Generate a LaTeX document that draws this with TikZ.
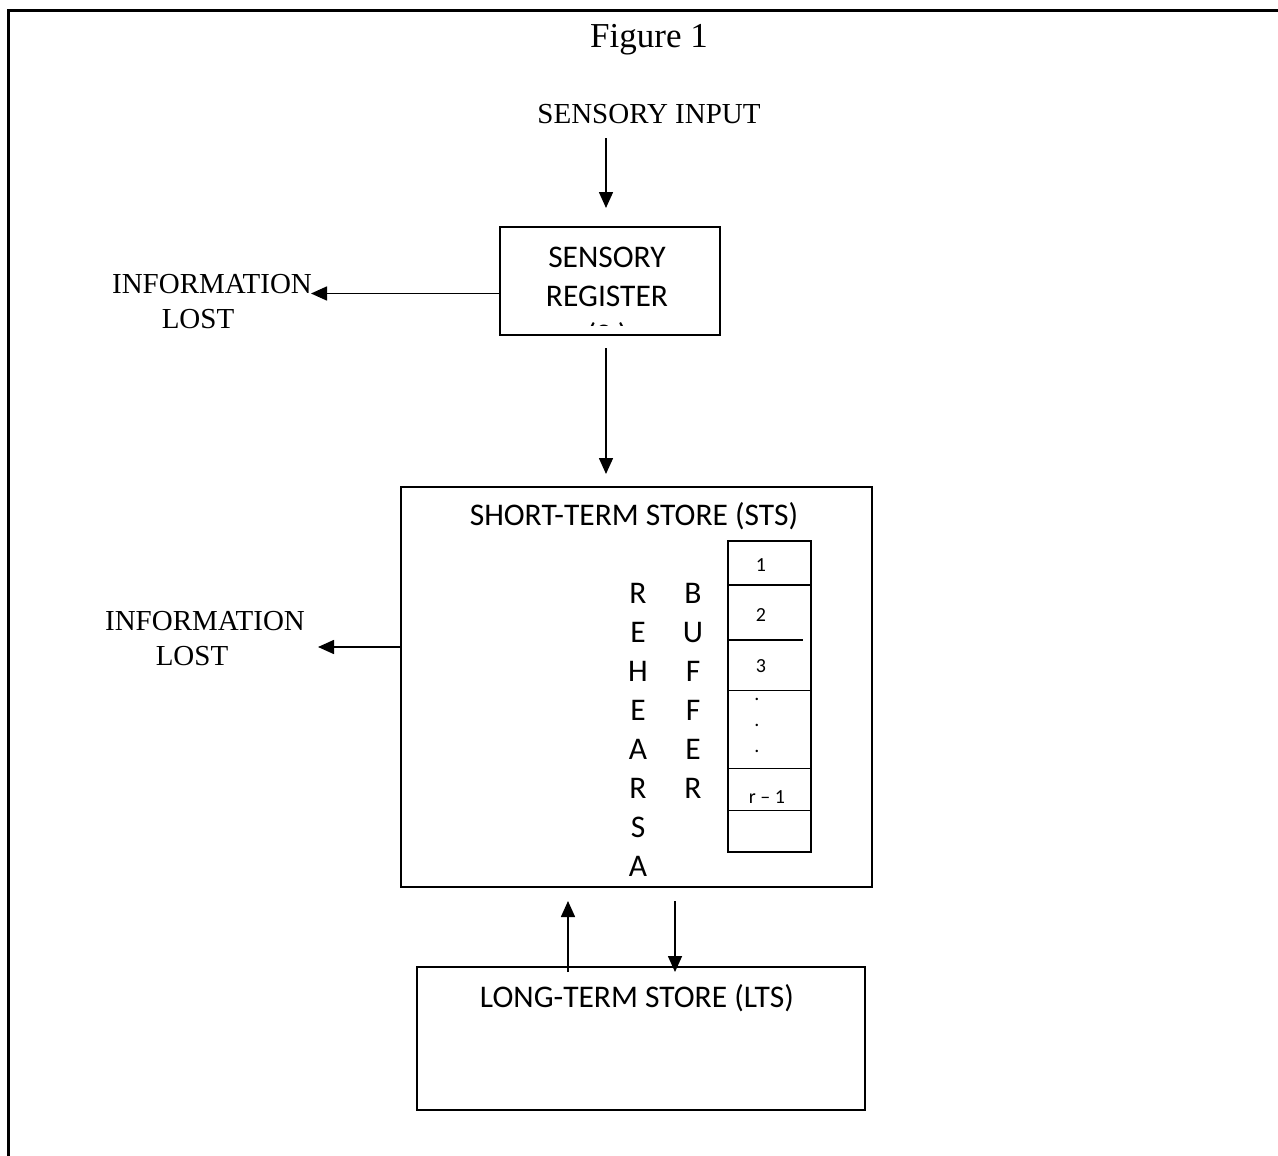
\documentclass[tikz,border=0pt]{standalone}
\usepackage{fontspec}
\setmainfont{Liberation Serif}
\newfontfamily\calfont{Carlito}
\usetikzlibrary{arrows.meta}
\begin{document}
\begin{tikzpicture}[x=1pt,y=-1pt,
  box/.style={draw, line width=2pt, inner sep=0pt},
  conn/.style={line width=1.6pt, -{Triangle[length=16pt,width=14pt]}},
  serif/.style={font=\fontsize{29}{35}\selectfont, inner sep=0pt, anchor=base},
  title/.style={font=\fontsize{35}{40}\selectfont, inner sep=0pt, anchor=base},
  cal/.style={font=\calfont\fontsize{31.5}{39}\selectfont, inner sep=0pt, anchor=base},
  small/.style={font=\calfont\fontsize{20}{22}\selectfont, inner sep=0pt, anchor=base},
  divider/.style={line width=1.6pt}
]
\useasboundingbox (0,0) rectangle (1278,1156);
% outer frame
\draw[line width=2.5pt] (1278,10.5) -- (8.5,10.5) -- (8.5,1156);

% texts
\node[title] (fig) at (649,48) {Figure 1};
\node[serif] (sin) at (649,124) {SENSORY INPUT};
\node[serif] (il1a) at (212,293) {INFORMATION};
\node[serif] (il1b) at (198,328) {LOST};
\node[serif] (il2a) at (205,630) {INFORMATION};
\node[serif] (il2b) at (192,665) {LOST};

% boxes
\node[box, minimum width=220pt, minimum height=108pt] (sr) at (610,281) {};
\node[box, minimum width=471pt, minimum height=400pt] (sts) at (636.5,687) {};
\node[box, minimum width=448pt, minimum height=143pt] (lts) at (641,1038.5) {};
\node[box, minimum width=83pt, minimum height=311pt, line width=1.6pt] (buf) at (769.5,696.5) {};

% sensory register text
\node[cal] (sr1) at (607,267) {SENSORY};
\node[cal] (sr2) at (607,306) {REGISTER};
\begin{scope}
\clip (502,228) rectangle (718,325.5);
\node[cal] (sr3) at (607,345) {(S )};
\end{scope}

% STS text
\node[cal] (ststxt) at (634,525) {SHORT-TERM STORE (STS)};
\foreach \l [count=\i from 0] in {R,E,H,E,A,R,S,A}
  \node[cal] (reh\i) at (638,{603+39*\i}) {\l};
\foreach \l [count=\i from 0] in {B,U,F,F,E,R}
  \node[cal] (bufl\i) at (693,{603+39*\i}) {\l};

% buffer slots
\draw[divider] (728,585) -- (811,585);
\draw[divider] (728,640) -- (803,640);
\draw[divider] (728,690.5) -- (811,690.5);
\draw[divider] (728,768.5) -- (811,768.5);
\draw[divider] (728,810.5) -- (811,810.5);
\node[small] (b1) at (761,571) {1};
\node[small] (b2) at (761,621) {2};
\node[small] (b3) at (761,672) {3};
\node[small] (d1) at (757,700) {.};
\node[small] (d2) at (757,726) {.};
\node[small] (d3) at (757,752) {.};
\node[small] (br) at (767,803) {r – 1};

% LTS text
\node[cal] (ltstxt) at (637,1007) {LONG-TERM STORE (LTS)};

% connector coordinates
\coordinate (a1s) at (606,138);
\coordinate (a1e) at (606,208);
\coordinate (a2s) at (sr.west |- 0,293.5);
\coordinate (a2e) at (311,293.5);
\coordinate (a3s) at (606,348);
\coordinate (a3e) at (606,474);
\coordinate (a4s) at (sts.west |- 0,647);
\coordinate (a4e) at (318,647);
\coordinate (a5s) at (568,972);
\coordinate (a5e) at (568,901);
\coordinate (a6s) at (675,901);
\coordinate (a6e) at (675,972);

\draw[conn] (a1s) -- (a1e);
\draw[conn] (a2s) -- (a2e);
\draw[conn] (a3s) -- (a3e);
\draw[conn] (a4s) -- (a4e);
\draw[conn] (a5s) -- (a5e);
\draw[conn] (a6s) -- (a6e);
\end{tikzpicture}
\end{document}
